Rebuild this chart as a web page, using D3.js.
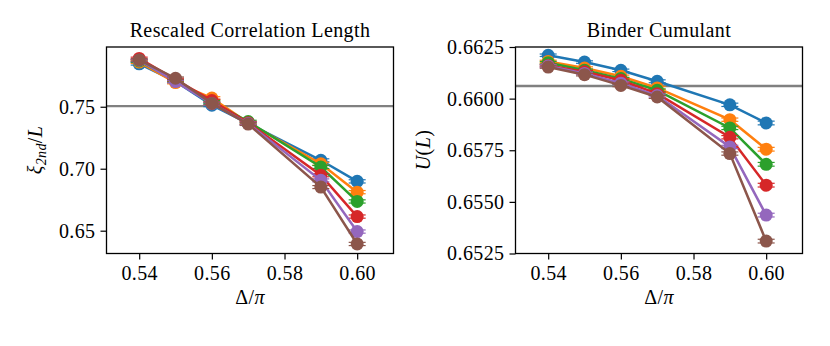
<!DOCTYPE html>
<html>
<head>
<meta charset="utf-8">
<script src="https://cdn.jsdelivr.net/npm/d3@7"></script>
<style>
  body { margin: 0; background: #fff; }
</style>
</head>
<body>
<svg id="chart" width="830" height="346"></svg>
<script>
// Delta / pi values on the x axis
var deltas = [0.54, 0.55, 0.56, 0.57, 0.59, 0.60];

// rescaled correlation length xi_2nd / L, one list per system size
var xi_s1 = [0.7846, 0.7705, 0.7512, 0.7365, 0.7068, 0.6898];
var xi_s2 = [0.7860, 0.7695, 0.7570, 0.7370, 0.7040, 0.6811];
var xi_s3 = [0.7870, 0.7710, 0.7540, 0.7380, 0.7014, 0.6736];
var xi_s4 = [0.7890, 0.7720, 0.7550, 0.7370, 0.6947, 0.6614];
var xi_s5 = [0.7875, 0.7703, 0.7525, 0.7365, 0.6906, 0.6493];
var xi_s6 = [0.7878, 0.7730, 0.7527, 0.7360, 0.6852, 0.6393];
var xi_err = [0.0010, 0.0010, 0.0011, 0.0011, 0.0012, 0.0013];
var xi_cross = 0.7505;

// Binder cumulant U(L), same sizes
var u_s1 = [0.66210, 0.66177, 0.66137, 0.66084, 0.65970, 0.65882];
var u_s2 = [0.66180, 0.66148, 0.66108, 0.66052, 0.65898, 0.65755];
var u_s3 = [0.66174, 0.66137, 0.66097, 0.66040, 0.65858, 0.65682];
var u_s4 = [0.66160, 0.66130, 0.66089, 0.66024, 0.65813, 0.65581];
var u_s5 = [0.66158, 0.66122, 0.66075, 0.66015, 0.65766, 0.65436];
var u_s6 = [0.66153, 0.66116, 0.66064, 0.66008, 0.65734, 0.65310];
var u_err = [0.00006, 0.00006, 0.00006, 0.00007, 0.00008, 0.00009];
var u_cross = 0.66061;

var xTicks = [0.54, 0.56, 0.58, 0.60];
var xiTicks = [0.65, 0.70, 0.75];
var uTicks = [0.6525, 0.6550, 0.6575, 0.6600, 0.6625];

var colors = ["#1f77b4", "#ff7f0e", "#2ca02c", "#d62728", "#9467bd", "#8c564b"];
var FONT = '"Liberation Serif"';
var FS = "20px";

var svg = d3.select("#chart");

function txt(sel) {
  return sel.style("font-family", FONT).style("font-size", FS)
    .style("letter-spacing", "0.4px").attr("fill", "#000");
}

function panel(opts) {
  var x = d3.scaleLinear().domain([0.5310, 0.6100]).range([opts.left, opts.left + 287]);
  var y = d3.scaleLinear().domain(opts.ydom).range([253.5, 47]);
  var g = svg.append("g");

  txt(g.append("text").attr("x", opts.left + 143.5).attr("y", 37)
    .attr("text-anchor", "middle")).text(opts.title);

  // critical crossing value
  g.append("line").attr("x1", x.range()[0]).attr("x2", x.range()[1])
    .attr("y1", y(opts.cross)).attr("y2", y(opts.cross))
    .attr("stroke", "#808080").attr("stroke-width", 2.4);

  var line = d3.line().x(function(d) { return x(d[0]); }).y(function(d) { return y(d[1]); });

  opts.series.forEach(function(vals, i) {
    var pts = deltas.map(function(d, j) { return [d, vals[j], opts.err[j]]; });
    var sg = g.append("g");
    sg.append("path").datum(pts).attr("d", line)
      .attr("fill", "none").attr("stroke", colors[i]).attr("stroke-width", 2.5);
    var eb = sg.selectAll("g.eb").data(pts).enter().append("g");
    [-1, 1].forEach(function(s) {
      eb.append("line")
        .attr("x1", function(d) { return x(d[0]) - 8.5; })
        .attr("x2", function(d) { return x(d[0]) + 8.5; })
        .attr("y1", function(d) { return y(d[1] + s * d[2]); })
        .attr("y2", function(d) { return y(d[1] + s * d[2]); })
        .attr("stroke", colors[i]).attr("stroke-width", 1.2);
    });
    sg.selectAll("circle").data(pts).enter().append("circle")
      .attr("cx", function(d) { return x(d[0]); })
      .attr("cy", function(d) { return y(d[1]); })
      .attr("r", 6.5).attr("fill", colors[i]);
  });

  g.append("rect").attr("x", x.range()[0]).attr("y", 47)
    .attr("width", 287).attr("height", 206.5)
    .attr("fill", "none").attr("stroke", "#000").attr("stroke-width", 1.3);

  var xa = g.append("g").attr("transform", "translate(0,253.5)")
    .call(d3.axisBottom(x).tickValues(xTicks).tickFormat(d3.format(".2f")).tickSize(6).tickPadding(6));
  var ya = g.append("g").attr("transform", "translate(" + opts.left + ",0)")
    .call(d3.axisLeft(y).tickValues(opts.yticks).tickFormat(d3.format(opts.yfmt)).tickSize(6).tickPadding(5));
  [xa, ya].forEach(function(a) {
    a.attr("font-family", null).attr("font-size", null);
    a.select(".domain").remove();
    a.selectAll("line").attr("stroke", "#000").attr("stroke-width", 1.2);
    txt(a.selectAll("text"));
  });

  txt(g.append("text").attr("x", opts.left + 143.5).attr("y", 304)
    .attr("text-anchor", "middle"))
    .html('Δ/<tspan font-style="italic">π</tspan>');

  txt(g.append("text").attr("transform", "translate(" + opts.ylabX + ",150) rotate(-90)")
    .attr("text-anchor", "middle")).html(opts.ylab);
}

panel({
  left: 106.5, title: "Rescaled Correlation Length",
  ydom: [0.6316, 0.7982], yticks: xiTicks, yfmt: ".2f",
  series: [xi_s1, xi_s2, xi_s3, xi_s4, xi_s5, xi_s6], err: xi_err, cross: xi_cross,
  ylabX: 42,
  ylab: '<tspan font-style="italic">ξ</tspan><tspan font-style="italic" font-size="14px" dy="4">2nd</tspan><tspan dy="-4">/</tspan><tspan font-style="italic">L</tspan>'
});

panel({
  left: 515.5, title: "Binder Cumulant",
  ydom: [0.6525, 0.6625], yticks: uTicks, yfmt: ".4f",
  series: [u_s1, u_s2, u_s3, u_s4, u_s5, u_s6], err: u_err, cross: u_cross,
  ylabX: 430,
  ylab: '<tspan font-style="italic">U</tspan>(<tspan font-style="italic">L</tspan>)'
});
</script>
</body>
</html>
